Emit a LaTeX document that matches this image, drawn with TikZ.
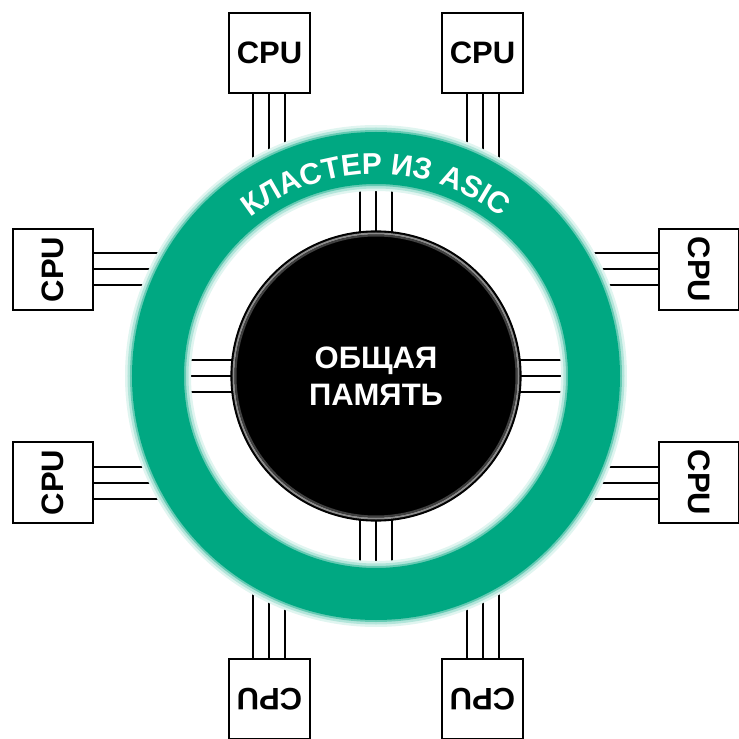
\documentclass[tikz,border=0pt]{standalone}
\usepackage{fontspec}
\setmainfont{Liberation Sans}
\usetikzlibrary{backgrounds,decorations.text}
\definecolor{asicgreen}{RGB}{0,168,130}
\tikzset{
  cpu/.style={draw, line width=2pt, fill=white, minimum width=81pt, minimum height=80pt,
    inner sep=0pt, font=\fontsize{31}{31}\selectfont\bfseries},
  bus/.style={line width=2pt, preaction={draw, line width=34pt},
    preaction={draw, white, line width=30pt}},
  memory/.style={circle, fill=black, draw=black, line width=1.2pt, minimum size=290pt,
    inner sep=0pt, text=white, align=center, font=\fontsize{31}{37}\selectfont\bfseries},
}
\begin{document}
\begin{tikzpicture}[x=1pt,y=1pt]
  \useasboundingbox (-376,-363) rectangle (363,376);
  \node[memory] (mem) at (0,0) {ОБЩАЯ\\ПАМЯТЬ};
  \draw[black!45, line width=2pt] (mem.center) circle (142.5);
  \draw[black!75, line width=2pt] (mem.center) circle (140.5);
  % ring with soft edge
  \foreach \w/\c in {66/12,61/30,56/60,52/100}
    \draw[asicgreen!\c, line width=\w pt] (mem.center) circle (218);
  \path[decorate, decoration={text along path, text align=center, text color=white,
      text={|\fontsize{30}{30}\selectfont\bfseries|КЛАСТЕР ИЗ ASIC}}]
    (150:202) arc[start angle=150, end angle=30, radius=202];
  \foreach \r/\s in {0/n,90/w,180/s,270/e}{
    \begin{scope}[rotate=\r, transform shape]
      \node[cpu] (cpu\s1) at (-106.5,323) {CPU};
      \node[cpu] (cpu\s2) at (106.5,323) {CPU};
      \coordinate (ring\s1) at (-106.5,190);
      \coordinate (ring\s2) at (106.5,190);
      \coordinate (ring\s) at (0,205);
      \begin{pgfonlayer}{background}
        \draw[bus] (cpu\s1.south) -- (ring\s1);
        \draw[bus] (cpu\s2.south) -- (ring\s2);
        \draw[bus] (mem.center) -- (ring\s);
      \end{pgfonlayer}
    \end{scope}
  }
\end{tikzpicture}
\end{document}
